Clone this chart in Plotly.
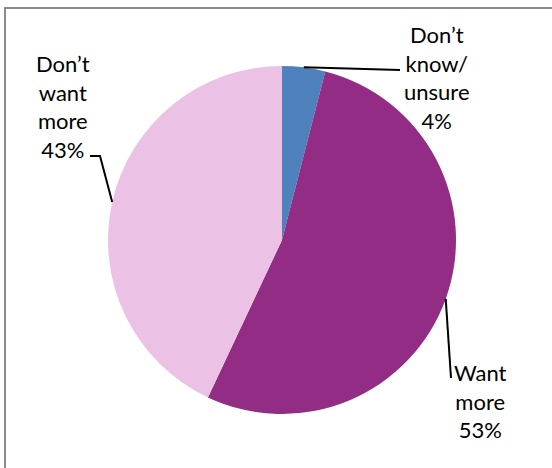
import math
import plotly.graph_objects as go

# ---- data ----
categories = ["Don’t know/ unsure", "Want more", "Don’t want more"]
label_lines = [["Don’t", "know/", "unsure"], ["Want", "more"], ["Don’t", "want", "more"]]
values = [4, 53, 43]
colors = ["#4F81BD", "#922C84", "#EBC2E6"]

W, H = 552, 468
CX, CY, R = 282, 240, 174  # pie centre / radius in pixels (layout)

def px(x):
    return x / W

def py(y):
    return 1 - y / H

fig = go.Figure(go.Pie(
    labels=categories,
    values=values,
    sort=False,
    direction="clockwise",
    rotation=0,
    marker=dict(colors=colors, line=dict(width=0)),
    textinfo="none",
    hoverinfo="label+percent",
    showlegend=False,
    domain=dict(x=[px(CX - R), px(CX + R)], y=[py(CY + R), py(CY - R)]),
))

# anchors on the pie rim at each slice's mid-angle, computed from the data
total = sum(values)
anchors = []
cum = 0
for v in values:
    mid = (cum + v / 2) / total * 2 * math.pi
    anchors.append((CX + R * math.sin(mid), CY - R * math.cos(mid)))
    cum += v

# label layout: text centre (pixels) and leader-line bends
label_pos = [(437, 78), (480, 401), (63, 107)]
leader_ends = [[(400, 70)], [(451, 378)], [(100, 156), (90, 156)]]

font = dict(family="Lato, 'Open Sans', sans-serif", size=22, color="#000000")
shapes = []
annotations = []
for i, v in enumerate(values):
    pct = round(v / total * 100)
    text = "<br>".join(label_lines[i] + [f"{pct}%"])
    lx, ly = label_pos[i]
    annotations.append(dict(
        x=px(lx), y=py(ly), xref="paper", yref="paper",
        text=text, showarrow=False, xanchor="center", yanchor="middle",
        align="center", font=font,
    ))
    pts = [anchors[i]] + leader_ends[i]
    path = "M " + " L ".join(f"{px(x)},{py(y)}" for x, y in pts)
    shapes.append(dict(type="path", xref="paper", yref="paper", path=path,
                       line=dict(color="#000000", width=2)))

# chart-area border (extends beyond the right/bottom edges)
shapes.append(dict(type="rect", xref="paper", yref="paper",
                   x0=px(5), x1=1.05, y0=-0.05, y1=py(8),
                   line=dict(color="#8A8A8A", width=2), fillcolor="rgba(0,0,0,0)"))

fig.update_layout(
    width=W, height=H,
    margin=dict(l=0, r=0, t=0, b=0),
    paper_bgcolor="#FFFFFF",
    plot_bgcolor="#FFFFFF",
    shapes=shapes,
    annotations=annotations,
)

fig.write_html(
    "out.html",
    config={"displayModeBar": False},
    post_script="document.body.style.margin='0';document.body.style.overflow='hidden';",
)
